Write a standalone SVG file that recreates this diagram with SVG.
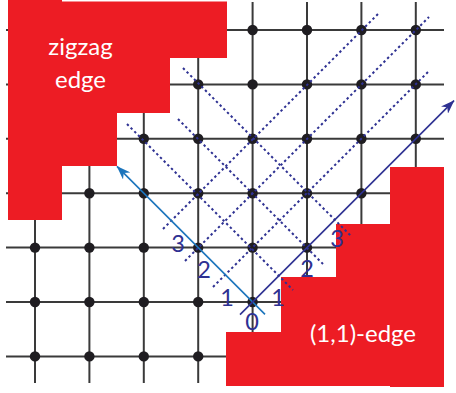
<svg xmlns="http://www.w3.org/2000/svg" width="456" height="393" viewBox="0 0 456 393">
  <style>
    .grid { stroke: #3a3a3a; stroke-width: 2; fill: none; }
    .dot { fill: #1f1d21; }
    .red { fill: #ed1c24; }
    .dotted { stroke: #2e3192; stroke-width: 2; stroke-dasharray: 2.4 2.8; fill: none; }
    .axis-light { stroke: #1c75bc; stroke-width: 1.6; fill: none; }
    .axis-dark { stroke: #2e3192; stroke-width: 1.6; fill: none; }
    .num { font-family: Lato, "Open Sans", "Liberation Sans", sans-serif; font-size: 23.5px; fill: #2e3192; text-anchor: middle; }
    .lbl { font-family: Lato, "Open Sans", "Liberation Sans", sans-serif; font-size: 24px; fill: #ffffff; text-anchor: middle; }
  </style>
  <defs>
    <marker id="ah-light" viewBox="0 0 14 10" refX="13.5" refY="5" markerWidth="14" markerHeight="10" markerUnits="userSpaceOnUse" orient="auto">
      <path d="M0,0 L14,5 L0,10 L4,5 z" fill="#1c75bc"/>
    </marker>
    <marker id="ah-dark" viewBox="0 0 14 10" refX="13.5" refY="5" markerWidth="14" markerHeight="10" markerUnits="userSpaceOnUse" orient="auto">
      <path d="M0,0 L14,5 L0,10 L4,5 z" fill="#2e3192"/>
    </marker>
  </defs>

  <!-- square lattice lines -->
  <g id="lattice-lines" class="grid">
    <line x1="6" y1="30" x2="444" y2="30"/>
    <line x1="6" y1="84.4" x2="444" y2="84.4"/>
    <line x1="6" y1="138.8" x2="444" y2="138.8"/>
    <line x1="6" y1="193.2" x2="444" y2="193.2"/>
    <line x1="6" y1="247.6" x2="444" y2="247.6"/>
    <line x1="6" y1="302" x2="444" y2="302"/>
    <line x1="6" y1="356.4" x2="444" y2="356.4"/>
    <line x1="35" y1="2" x2="35" y2="383"/>
    <line x1="89.4" y1="2" x2="89.4" y2="383"/>
    <line x1="143.8" y1="2" x2="143.8" y2="383"/>
    <line x1="198.2" y1="2" x2="198.2" y2="383"/>
    <line x1="252.6" y1="2" x2="252.6" y2="383"/>
    <line x1="307" y1="2" x2="307" y2="383"/>
    <line x1="361.4" y1="2" x2="361.4" y2="383"/>
    <line x1="415.8" y1="2" x2="415.8" y2="383"/>
  </g>

  <!-- lattice sites -->
  <g id="lattice-nodes" class="dot">
    <g id="n-4-0"><circle cx="252.6" cy="30" r="5.2"/></g>
    <g id="n-5-0"><circle cx="307" cy="30" r="5.2"/></g>
    <g id="n-6-0"><circle cx="361.4" cy="30" r="5.2"/></g>
    <g id="n-7-0"><circle cx="415.8" cy="30" r="5.2"/></g>
    <g id="n-3-1"><circle cx="198.2" cy="84.4" r="5.2"/></g>
    <g id="n-4-1"><circle cx="252.6" cy="84.4" r="5.2"/></g>
    <g id="n-5-1"><circle cx="307" cy="84.4" r="5.2"/></g>
    <g id="n-6-1"><circle cx="361.4" cy="84.4" r="5.2"/></g>
    <g id="n-7-1"><circle cx="415.8" cy="84.4" r="5.2"/></g>
    <g id="n-2-2"><circle cx="143.8" cy="138.8" r="5.2"/></g>
    <g id="n-3-2"><circle cx="198.2" cy="138.8" r="5.2"/></g>
    <g id="n-4-2"><circle cx="252.6" cy="138.8" r="5.2"/></g>
    <g id="n-5-2"><circle cx="307" cy="138.8" r="5.2"/></g>
    <g id="n-6-2"><circle cx="361.4" cy="138.8" r="5.2"/></g>
    <g id="n-7-2"><circle cx="415.8" cy="138.8" r="5.2"/></g>
    <g id="n-1-3"><circle cx="89.4" cy="193.2" r="5.2"/></g>
    <g id="n-2-3"><circle cx="143.8" cy="193.2" r="5.2"/></g>
    <g id="n-3-3"><circle cx="198.2" cy="193.2" r="5.2"/></g>
    <g id="n-4-3"><circle cx="252.6" cy="193.2" r="5.2"/></g>
    <g id="n-5-3"><circle cx="307" cy="193.2" r="5.2"/></g>
    <g id="n-6-3"><circle cx="361.4" cy="193.2" r="5.2"/></g>
    <g id="n-0-4"><circle cx="35" cy="247.6" r="5.2"/></g>
    <g id="n-1-4"><circle cx="89.4" cy="247.6" r="5.2"/></g>
    <g id="n-2-4"><circle cx="143.8" cy="247.6" r="5.2"/></g>
    <g id="n-3-4"><circle cx="198.2" cy="247.6" r="5.2"/></g>
    <g id="n-4-4"><circle cx="252.6" cy="247.6" r="5.2"/></g>
    <g id="n-5-4"><circle cx="307" cy="247.6" r="5.2"/></g>
    <g id="n-0-5"><circle cx="35" cy="302" r="5.2"/></g>
    <g id="n-1-5"><circle cx="89.4" cy="302" r="5.2"/></g>
    <g id="n-2-5"><circle cx="143.8" cy="302" r="5.2"/></g>
    <g id="n-3-5"><circle cx="198.2" cy="302" r="5.2"/></g>
    <g id="n-origin"><circle cx="252.6" cy="302" r="5.2"/></g>
    <g id="n-0-6"><circle cx="35" cy="356.4" r="5.2"/></g>
    <g id="n-1-6"><circle cx="89.4" cy="356.4" r="5.2"/></g>
    <g id="n-2-6"><circle cx="143.8" cy="356.4" r="5.2"/></g>
    <g id="n-3-6"><circle cx="198.2" cy="356.4" r="5.2"/></g>
  </g>

  <!-- red edge regions -->
  <g id="zigzag-edge">
    <polygon class="red" points="8,0 62,0 62,1.5 227,1.5 227,58 170,58 170,113 117,113 117,166 62,166 62,220 8,220"/>
    <text class="lbl" x="80.5" y="55">zigzag</text>
    <text class="lbl" x="80.5" y="88">edge</text>
  </g>
  <g id="armchair-edge">
    <polygon class="red" points="390,167 444,167 444,387 390,387 390,386 226,386 226,332 281,332 281,277 336,277 336,224 390,224"/>
    <text class="lbl" x="363" y="342">(1,1)-edge</text>
  </g>

  <!-- connectors: dotted layer lines and the two axes -->
  <g id="connectors">
    <line class="dotted" x1="163" y1="229" x2="379" y2="13"/>
    <line class="dotted" x1="185" y1="261" x2="429" y2="17"/>
    <line class="dotted" x1="213" y1="287" x2="429" y2="71"/>
    <line class="dotted" x1="127" y1="124" x2="293" y2="290"/>
    <line class="dotted" x1="178" y1="119" x2="323" y2="264"/>
    <line class="dotted" x1="183" y1="68" x2="352" y2="237"/>
    <line class="axis-light" x1="265" y1="314.4" x2="117" y2="166.4" marker-end="url(#ah-light)"/>
    <line class="axis-dark" x1="240" y1="314.6" x2="454" y2="100.6" marker-end="url(#ah-dark)"/>
  </g>

  <!-- layer numbers -->
  <g id="labels">
    <text class="num" x="252" y="330">0</text>
    <text class="num" x="227" y="306">1</text>
    <text class="num" x="204" y="278">2</text>
    <text class="num" x="178" y="252">3</text>
    <text class="num" x="278" y="306">1</text>
    <text class="num" x="307" y="277">2</text>
    <text class="num" x="337" y="247">3</text>
  </g>
</svg>
